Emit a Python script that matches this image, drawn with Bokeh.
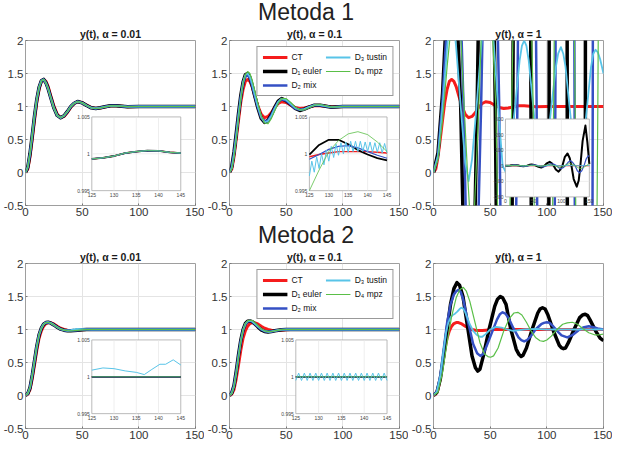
from bokeh.plotting import figure
from bokeh.models import Range1d, FixedTicker, Div, Legend, LegendItem
from bokeh.layouts import column, row
from bokeh.embed import file_html
from bokeh.resources import INLINE
from bokeh.core.properties import value

FONT = "Liberation Sans"

# ---------------- data ----------------
SERIES = ["CT", "D₁ euler", "D₂ mix", "D₃ tustin", "D₄ mpz"]
X_TICKS = [0, 50, 100, 150]
X_LABELS = ["0", "50", "100", "150"]
Y_TICKS = [-0.5, 0, 0.5, 1, 1.5, 2]
Y_LABELS = ["-0.5", "0", "0.5", "1", "1.5", "2"]

T = [0, 2, 4, 6, 8, 10, 12, 14, 16, 18, 20, 22, 25, 28, 31, 34, 37, 40, 43, 46,
     50, 54, 58, 62, 66, 70, 75, 80, 90, 100, 110, 125, 150]

# Metoda 1
m1_ct = [0, .05, .24, .51, .80, 1.07, 1.26, 1.38, 1.41, 1.38, 1.30, 1.18, 1.01, .88, .83, .85, .91, .99, 1.045, 1.072,
         1.06, 1.02, .985, .97, .977, .993, 1.01, 1.01, .997, 1.0, 1.0, 1.0, 1.0]
m1_a001_d = [0, .08, .29, .57, .86, 1.11, 1.29, 1.39, 1.41, 1.36, 1.27, 1.15, .98, .865, .83, .86, .925, 1.0, 1.05, 1.075,
             1.055, 1.015, .98, .97, .98, .995, 1.01, 1.01, .997, 1.0, 1.0, 1.0, 1.0]
m1_a01_d1 = [0, .09, .31, .60, .90, 1.17, 1.37, 1.48, 1.50, 1.44, 1.32, 1.18, .98, .82, .76, .79, .88, .99, 1.08, 1.12,
             1.09, 1.03, .97, .94, .96, .99, 1.02, 1.02, .99, 1.0, 1.0, 1.0, 1.0]
m1_a01_d2 = [0, .08, .29, .58, .88, 1.15, 1.35, 1.46, 1.48, 1.43, 1.32, 1.18, .99, .83, .77, .79, .87, .98, 1.07, 1.11,
             1.09, 1.03, .97, .95, .96, .99, 1.02, 1.02, .99, 1.0, 1.0, 1.0, 1.0]
m1_a01_d3 = [0, .07, .27, .56, .87, 1.15, 1.37, 1.48, 1.50, 1.45, 1.34, 1.20, 1.00, .84, .76, .78, .86, .97, 1.07, 1.12,
             1.10, 1.04, .98, .95, .96, .99, 1.02, 1.02, .99, 1.0, 1.0, 1.0, 1.0]
m1_a01_d4 = [0, .05, .24, .52, .83, 1.12, 1.35, 1.48, 1.53, 1.50, 1.40, 1.26, 1.05, .86, .75, .74, .82, .94, 1.05, 1.12,
             1.12, 1.06, .99, .95, .95, .98, 1.02, 1.03, .99, 1.0, 1.0, 1.0, 1.0]

m1_a1_d1_t = [0, 4, 8, 12, 16, 20, 24, 28, 32, 35, 38.5, 43, 47, 51, 54.5, 59, 64, 67, 70, 74, 79, 83, 86, 90, 95, 98,
              102, 106, 111, 115, 118, 122, 127.5, 131, 134, 138, 143, 146.5, 150]
m1_a1_d1 = [0, 0.3, 1.2, 2.6, 3.6, 2.7, 1.0, -2.2, -3.6, -2.0, 1.0, 6.0, 8.5, 5.5, 1.0, -7.0, -11, -6.5, 1.0, 16, 25, 16,
            1.0, -24, -38, -25, 1.0, 55, 79, 48, 1.0, -85, -134, -95, 1.0, 160, 258, 150, 10]
m1_a1_d2_t = [0, 4, 8, 11, 14.5, 18.5, 22.5, 26.5, 30, 34, 38, 42, 46, 50, 54, 58, 62, 66, 70, 74, 78, 82.5, 87, 91,
              95, 99, 103, 107.5, 112, 116, 120, 124.5, 128.5, 132.5, 136.5, 140.5, 144.5, 148, 150]
m1_a1_d2 = [0, 0.25, 1.1, 2.0, 3.6, 4.4, 3.4, 1.0, -1.8, -3.0, -1.8, 1.0, 4.5, 6, 4.5, 1.0, -5, -7, -5, 1.0, 9, 13, 9,
            1.0, -12, -19, -13, 1.0, 22, 32, 22, 1.0, -32, -45, -32, 1.0, 45, 64, 62]
m1_a1_d3_t = [0, 4, 8, 12, 14, 16, 18, 20, 24, 28, 31, 34, 38, 43, 45.5, 48, 50.5, 53, 57, 61, 64, 68, 72, 76, 78, 80,
              82, 84, 88, 92, 96, 100, 104, 108, 110, 112.4, 114.5, 116.5, 120, 124, 128, 132, 135.5, 139, 141,
              143, 145, 147, 150]
m1_a1_d3 = [0, 0.25, 1.0, 1.9, 2.25, 2.4, 2.25, 1.9, 1.0, 0.15, -0.13, 0.2, 1.0, 2.1, 2.35, 2.45, 2.35, 2.0, 1.0, 0.1,
            0.0, 0.4, 1.0, 1.7, 1.92, 2.0, 1.92, 1.7, 1.0, 0.3, 0.1, 0.35, 1.0, 1.6, 1.8, 1.9, 1.8, 1.6, 1.0, 0.35,
            0.12, 0.4, 1.0, 1.6, 1.8, 1.86, 1.82, 1.72, 1.5]
m1_a1_d4_t = [0, 4, 8, 12, 16, 20, 24, 27, 30, 33, 36, 40, 43, 47, 51, 55, 58, 62, 66, 69, 73, 78, 83, 88, 92, 97,
              102, 106, 110, 115, 120, 125, 129, 135, 140, 145, 148, 150]
m1_a1_d4 = [0, 0.2, 0.8, 1.6, 2.3, 2.5, 2.1, 1.0, 0.0, -0.9, -0.6, 1.0, 2.5, 3.2, 2.5, 1.0, -2, -3.6, -2, 1.0, 5, 7, 5,
            1.0, -6, -9, -6, 1.0, 9, 14, 9, 1.0, -12, -19, -10, 1.0, 10, 15]

# Metoda 2
m2_ct = [0, .02, .09, .26, .47, .69, .87, .98, 1.05, 1.09, 1.105, 1.105, 1.085, 1.05, 1.02, 1.0, .988, .984, .985, .99,
         .995, .999, 1.0, 1.0, 1.0, 1.0, 1.0, 1.0, 1.0, 1.0, 1.0, 1.0, 1.0]
m2_a001_d = [0, .03, .12, .31, .53, .75, .92, 1.02, 1.08, 1.105, 1.11, 1.10, 1.07, 1.035, 1.005, .99, .982, .98, .983, .988,
             .995, .999, 1.0, 1.0, 1.0, 1.0, 1.0, 1.0, 1.0, 1.0, 1.0, 1.0, 1.0]
m2_a001_d3 = [0, .03, .12, .31, .53, .75, .92, 1.02, 1.08, 1.105, 1.11, 1.10, 1.07, 1.035, 1.005, .99, .985, .99, 1.0, 1.008,
              1.006, 1.002, 1.0, 1.0, 1.0, 1.0, 1.0, 1.0, 1.0, 1.0, 1.0, 1.0, 1.0]
m2_a01_d1 = [0, .04, .15, .37, .62, .84, 1.0, 1.09, 1.125, 1.13, 1.12, 1.09, 1.04, .995, .97, .963, .968, .98, .99, .997,
             1.0, 1.0, 1.0, 1.0, 1.0, 1.0, 1.0, 1.0, 1.0, 1.0, 1.0, 1.0, 1.0]
m2_a01_d2 = [0, .04, .15, .36, .61, .83, .99, 1.08, 1.12, 1.13, 1.12, 1.09, 1.045, 1.0, .975, .965, .968, .98, .99, .997,
             1.0, 1.0, 1.0, 1.0, 1.0, 1.0, 1.0, 1.0, 1.0, 1.0, 1.0, 1.0, 1.0]
m2_a01_d3 = [0, .035, .14, .35, .60, .83, .99, 1.085, 1.125, 1.135, 1.125, 1.095, 1.05, 1.005, .977, .966, .97, .98, .99, .997,
             1.0, 1.0, 1.0, 1.0, 1.0, 1.0, 1.0, 1.0, 1.0, 1.0, 1.0, 1.0, 1.0]
m2_a01_d4 = [0, .03, .13, .34, .59, .82, .99, 1.09, 1.13, 1.14, 1.135, 1.11, 1.06, 1.01, .98, .967, .97, .98, .99, .997,
             1.0, 1.0, 1.0, 1.0, 1.0, 1.0, 1.0, 1.0, 1.0, 1.0, 1.0, 1.0, 1.0]

m2_a1_d1_t = [0, 3, 6, 9, 12, 15, 18, 20.7, 23, 26, 30, 34, 37, 39, 41, 44, 49, 54, 56.5, 58.9, 61, 64, 68, 73, 75.5,
              77.3, 79, 82, 87, 92, 94, 96.2, 98.5, 101, 106, 111, 113, 114.6, 116.5, 119, 124, 129, 131.5, 133.9,
              136, 138, 143, 147, 150]
m2_a1_d1 = [0, 0.05, 0.25, 0.6, 1.0, 1.38, 1.62, 1.71, 1.67, 1.5, 1.05, 0.6, 0.42, 0.37, 0.4, 0.6, 1.0, 1.35, 1.46, 1.50,
            1.48, 1.38, 1.02, 0.7, 0.62, 0.59, 0.61, 0.72, 1.0, 1.25, 1.31, 1.33, 1.31, 1.22, 0.97, 0.76, 0.72, 0.71,
            0.72, 0.8, 1.0, 1.18, 1.22, 1.23, 1.21, 1.15, 0.98, 0.87, 0.83]
m2_a1_d2_t = [0, 3, 6, 9, 12, 15, 18, 20, 22, 24, 26, 30, 35, 38.5, 41.3, 44, 48, 51, 56, 58.5, 61, 63.5, 66, 70.5,
              75, 77.5, 80, 82.5, 85, 90, 95, 97.5, 100, 102.5, 105, 109, 113, 118, 123, 128, 132, 137, 142, 146, 150]
m2_a1_d2 = [0, 0.06, 0.3, 0.7, 1.1, 1.38, 1.53, 1.58, 1.60, 1.57, 1.47, 1.15, 0.78, 0.64, 0.60, 0.63, 0.8, 0.93, 1.15,
            1.23, 1.26, 1.24, 1.18, 1.02, 0.88, 0.84, 0.82, 0.84, 0.88, 1.0, 1.08, 1.10, 1.11, 1.10, 1.06, 0.98, 0.91,
            0.88, 0.92, 0.99, 1.03, 1.05, 1.03, 1.01, 1.0]
m2_a1_d3_t = [0, 3, 6, 9, 11, 13, 15, 17, 19, 21, 23, 24.5, 26, 28, 30, 32, 35, 38, 41, 43, 46, 50, 55, 60, 65, 70,
              80, 90, 100, 125, 150]
m2_a1_d3 = [0, 0.06, 0.3, 0.7, 0.95, 1.1, 1.18, 1.22, 1.24, 1.27, 1.31, 1.33, 1.32, 1.26, 1.17, 1.08, 0.98, 0.92, 0.89,
            0.89, 0.93, 1.0, 1.04, 1.03, 1.0, 0.98, 1.0, 1.01, 1.0, 1.0, 1.0]
m2_a1_d4_t = [0, 4, 8, 12, 16, 20, 23, 26.3, 29, 32, 36, 41, 45, 48, 50.4, 53, 57, 62, 67, 71, 74.4, 78, 82, 86, 90,
              94, 97, 100, 104, 109, 114, 118, 122.5, 127, 132, 137, 142, 146, 150]
m2_a1_d4 = [0, 0.05, 0.35, 0.8, 1.2, 1.48, 1.6, 1.64, 1.58, 1.43, 1.15, 0.8, 0.63, 0.59, 0.58, 0.6, 0.72, 0.98, 1.17,
            1.25, 1.26, 1.22, 1.11, 0.98, 0.88, 0.83, 0.82, 0.84, 0.9, 1.0, 1.08, 1.1, 1.11, 1.08, 1.01, 0.95, 0.92,
            0.92, 0.93]

# insets (zoom 125..145)
ZX_TICKS = [125, 130, 135, 140, 145]
ZX_LABELS = ["125", "130", "135", "140", "145"]
ZY_TICKS = [0.995, 1.0, 1.005]
ZY_LABELS = ["0.995", "1", "1.005"]
BX_TICKS = [0, 50, 100, 150]
BX_LABELS = ["0", "50", "100", "150"]
BY_TICKS = [-200, -100, 0, 100, 200, 300]
BY_LABELS = ["-200", "-100", "0", "100", "200", "300"]

TZ = [125, 127.5, 130, 132.5, 135, 137.5, 140, 142.5, 145]
z11_all = [0.9993, 0.99945, 0.9997, 1.0001, 1.0003, 1.00043, 1.0004, 1.0002, 1.0001]
z12_ct = [0.9996, 0.9999, 1.0001, 1.0003, 1.0003, 1.0003, 1.0003, 1.0002, 1.0001]
z12_d1 = [0.9999, 1.0012, 1.0019, 1.0019, 1.0013, 1.0005, 0.9999, 0.9994, 0.9991]
z12_d2 = [0.99925, 0.9999, 1.0006, 1.0010, 1.0011, 1.0008, 1.0003, 0.9998, 0.9994]
z12_d4 = [0.9950, 0.9978, 1.0003, 1.0018, 1.0027, 1.0030, 1.0026, 1.0016, 1.0003]
TZ_OSC = [125.0, 125.625, 126.25, 126.875, 127.5, 128.125, 128.75, 129.375, 130.0, 130.625, 131.25,
          131.875, 132.5, 133.125, 133.75, 134.375, 135.0, 135.625, 136.25, 136.875, 137.5, 138.125,
          138.75, 139.375, 140.0, 140.625, 141.25, 141.875, 142.5, 143.125, 143.75, 144.375, 145.0]
z12_d3 = [0.9970, 0.9990, 0.9975, 0.9996, 0.9980, 1.0000, 0.9985, 1.0005, 0.9990, 1.0010, 0.9995,
          1.0013, 0.9998, 1.0015, 1.0000, 1.0016, 1.0002, 1.0017, 1.0003, 1.0017, 1.0003, 1.0017,
          1.0003, 1.0016, 1.0003, 1.0016, 1.0002, 1.0015, 1.0002, 1.0015, 1.0001, 1.0014, 1.0001]
TZ_FLAT = [125, 145]
z2_flat = [1.0, 1.0]
TZ21_D3 = [125, 127.5, 130, 132.5, 135, 136.8, 138.5, 140.3, 141.6, 143.3, 145]
z21_d3 = [1.0009, 1.0012, 1.0011, 1.0008, 1.0006, 1.0003, 1.0010, 1.0017, 1.0017, 1.0023, 1.0016]
z22_d3 = [0.9995, 1.0005, 0.9995, 1.0005, 0.9995, 1.0005, 0.9995, 1.0005, 0.9995, 1.0005, 0.9995,
          1.0005, 0.9995, 1.0005, 0.9995, 1.0005, 0.9995, 1.0005, 0.9995, 1.0005, 0.9995, 1.0005,
          0.9995, 1.0005, 0.9995, 1.0005, 0.9995, 1.0005, 0.9995, 1.0005, 0.9995, 1.0005, 0.9995]

# ---------------- style ----------------
COLORS = ["#f51c1c", "#000000", "#3550c4", "#58c4e8", "#5abf48"]
MAIN_W = [3.0, 3.5, 2.5, 1.8, 1.2]
INSET_W = [1.4, 1.8, 1.2, 1.0, 0.8]


def base_fig(title):
    p = figure(width=204, height=198, x_range=Range1d(0, 150), y_range=Range1d(-0.5, 2),
               output_backend="svg", toolbar_location=None, title=title,
               min_border_left=22, min_border_right=9, min_border_top=13, min_border_bottom=18)
    p.title.text_font = FONT
    p.title.text_font_size = "10.5px"
    p.title.text_font_style = "bold"
    p.title.align = "center"
    p.title.standoff = 1
    p.title.text_color = "#1a1a1a"
    p.xaxis.ticker = FixedTicker(ticks=X_TICKS)
    p.xaxis.major_label_overrides = dict(zip(X_TICKS, X_LABELS))
    p.yaxis.ticker = FixedTicker(ticks=Y_TICKS)
    p.yaxis.major_label_overrides = dict(zip(Y_TICKS, Y_LABELS))
    p.axis.major_label_text_font = FONT
    p.axis.major_label_text_font_size = "11.5px"
    p.axis.major_label_text_color = "#333333"
    p.axis.axis_line_color = None
    p.axis.major_tick_in = 2
    p.axis.major_tick_out = 0
    p.axis.major_tick_line_color = "#777777"
    p.axis.minor_tick_line_color = None
    p.axis.major_label_standoff = 2
    p.outline_line_color = "#9e9e9e"
    p.grid.grid_line_color = "#e4e4e4"
    p.background_fill_color = "white"
    p.border_fill_color = "white"
    return p


def draw(target, xs, ys, widths):
    rs = []
    for x, y, c, w in zip(xs, ys, COLORS, widths):
        rs.append(target.line(x=x, y=y, line_color=c, line_width=w, line_join="round"))
    return rs


def add_legend(p, renderers):
    items = [LegendItem(label=name, renderers=[r]) for name, r in zip(SERIES, renderers)]
    lg = Legend(items=items, location="top_right", ncols=2,
                label_text_font=FONT, label_text_font_size="8.5px", label_text_color="#111111",
                glyph_width=25, glyph_height=10, label_height=10, label_standoff=4,
                spacing=4, padding=5, margin=6,
                border_line_color="#333333", border_line_width=1, background_fill_alpha=1.0)
    p.add_layout(lg)


def add_inset(p, xt, xl, yt, yl, tx, ty, xs, ys, widths, grid_y=True):
    x0, x1 = min(xt), max(xt)
    y0, y1 = min(yt), max(yt)
    sub = p.subplot(x_source=Range1d(x0, x1), y_source=Range1d(y0, y1),
                    x_target=Range1d(*tx), y_target=Range1d(*ty))
    sub.quad(left=[x0], right=[x1], bottom=[y0], top=[y1], fill_color="white",
             line_color="#a8a8a8", line_width=0.8)
    ix = xt[1:-1]
    sub.segment(x0=ix, y0=[y0] * len(ix), x1=ix, y1=[y1] * len(ix), line_color="#e6e6e6", line_width=0.7)
    if grid_y:
        iy = yt[1:-1]
        sub.segment(x0=[x0] * len(iy), y0=iy, x1=[x1] * len(iy), y1=iy, line_color="#e6e6e6", line_width=0.7)
    for x, y, c, w in zip(xs, ys, COLORS, widths):
        sub.line(x=x, y=y, line_color=c, line_width=w, line_join="round")
    sub.text(x=xt, y=[y0] * len(xt), text=xl, text_font=value(FONT), text_font_size="5px",
             text_align="center", text_baseline="top", y_offset=2, text_color="#444444")
    sub.text(x=[x0] * len(yt), y=yt, text=yl, text_font=value(FONT), text_font_size="5px",
             text_align="right", text_baseline="middle", x_offset=-2, text_color="#444444")
    return sub


# ---- Metoda 1 ----
f11 = base_fig("y(t), α = 0.01")
draw(f11, [T] * 5, [m1_ct, m1_a001_d, m1_a001_d, m1_a001_d, m1_a001_d], MAIN_W)
add_inset(f11, ZX_TICKS, ZX_LABELS, ZY_TICKS, ZY_LABELS, (58.5, 137), (-0.275, 0.842),
          [TZ] * 5, [z11_all] * 5, INSET_W)

f12 = base_fig("y(t), α = 0.1")
r12 = draw(f12, [T] * 5, [m1_ct, m1_a01_d1, m1_a01_d2, m1_a01_d3, m1_a01_d4], MAIN_W)
add_inset(f12, ZX_TICKS, ZX_LABELS, ZY_TICKS, ZY_LABELS, (70.5, 139), (-0.275, 0.842),
          [TZ, TZ, TZ, TZ_OSC, TZ], [z12_ct, z12_d1, z12_d2, z12_d3, z12_d4], INSET_W)
add_legend(f12, r12)

f13 = base_fig("y(t), α = 1")
draw(f13, [T, m1_a1_d1_t, m1_a1_d2_t, m1_a1_d3_t, m1_a1_d4_t],
     [m1_ct, m1_a1_d1, m1_a1_d2, m1_a1_d3, m1_a1_d4], MAIN_W)
add_inset(f13, BX_TICKS, BX_LABELS, BY_TICKS, BY_LABELS, (63.5, 137.5), (-0.37, 0.81),
          [T, m1_a1_d1_t, m1_a1_d2_t, m1_a1_d3_t, m1_a1_d4_t],
          [m1_ct, m1_a1_d1, m1_a1_d2, m1_a1_d3, m1_a1_d4], [1.2, 2.0, 1.2, 1.0, 0.8])

# ---- Metoda 2 ----
f21 = base_fig("y(t), α = 0.01")
draw(f21, [T] * 5, [m2_ct, m2_a001_d, m2_a001_d, m2_a001_d3, m2_a001_d], MAIN_W)
add_inset(f21, ZX_TICKS, ZX_LABELS, ZY_TICKS, ZY_LABELS, (58.5, 137), (-0.275, 0.842),
          [TZ_FLAT, TZ_FLAT, TZ_FLAT, TZ21_D3, TZ_FLAT], [z2_flat, z2_flat, z2_flat, z21_d3, z2_flat],
          INSET_W, grid_y=False)

f22 = base_fig("y(t), α = 0.1")
r22 = draw(f22, [T] * 5, [m2_ct, m2_a01_d1, m2_a01_d2, m2_a01_d3, m2_a01_d4], MAIN_W)
add_inset(f22, ZX_TICKS, ZX_LABELS, ZY_TICKS, ZY_LABELS, (58.5, 139), (-0.275, 0.842),
          [TZ_FLAT, TZ_FLAT, TZ_FLAT, TZ_OSC, TZ_FLAT], [z2_flat, z2_flat, z2_flat, z22_d3, z2_flat],
          INSET_W, grid_y=False)
add_legend(f22, r22)

f23 = base_fig("y(t), α = 1")
draw(f23, [T, m2_a1_d1_t, m2_a1_d2_t, m2_a1_d3_t, m2_a1_d4_t],
     [m2_ct, m2_a1_d1, m2_a1_d2, m2_a1_d3, m2_a1_d4], MAIN_W)


def heading(txt):
    return Div(text=f'<div style="font-family:{FONT};font-size:23px;line-height:25px;'
                    f'text-align:center;color:#222;width:612px;">{txt}</div>',
               width=612, height=25, margin=(0, 0, 0, 0))


layout = column(heading("Metoda 1"), row(f11, f12, f13), heading("Metoda 2"), row(f21, f22, f23),
                spacing=0)

open("out.html", "w").write(file_html(layout, INLINE))
